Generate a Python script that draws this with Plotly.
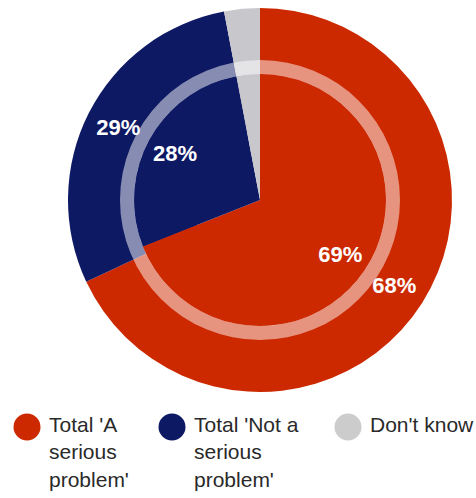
import plotly.graph_objects as go

# ---- data ----
categories = ["Total 'A serious problem'", "Total 'Not a serious problem'", "Don't know"]
legend_labels = ["Total 'A<br>serious<br>problem'", "Total 'Not a<br>serious<br>problem'", "Don't know"]
outer_values = [68, 29, 3]
inner_values = [69, 28, 3]

# ---- style ----
W, H = 476, 498
colors = ["#CC2900", "#0E1964", "#C8C8CC"]
legend_colors = ["#CC2900", "#0E1964", "#CCCCCC"]
FONT = "Liberation Sans, Arial, sans-serif"
CX, CY = 260, 200          # pie centre (px)
R_OUT, R_RING_O, R_RING_I, R_IN_HOLE = 192, 140, 126, 68


def dom(r):
    return dict(x=[(CX - r) / W, (CX + r) / W], y=[1 - (CY + r) / H, 1 - (CY - r) / H])


def lab(vals):
    return [f"<b>{v}%</b>" if v >= 10 else "" for v in vals]


common = dict(sort=False, direction="clockwise", rotation=0, showlegend=False,
              hoverinfo="label+value", insidetextorientation="horizontal",
              insidetextfont=dict(family=FONT, size=22, color="white"))

fig = go.Figure()
# outer ring carrying the labels
fig.add_trace(go.Pie(labels=categories, values=outer_values, hole=R_RING_I / R_OUT,
                     domain=dom(R_OUT), marker=dict(colors=colors), textposition="inside",
                     text=lab(outer_values), textinfo="text", **common))
# inner core (no text)
fig.add_trace(go.Pie(labels=categories, values=inner_values, hole=0,
                     domain=dom(R_RING_I), marker=dict(colors=colors),
                     textinfo="none", **common))
# inner ring carrying the labels
fig.add_trace(go.Pie(labels=categories, values=inner_values, hole=R_IN_HOLE / R_RING_I,
                     domain=dom(R_RING_I), marker=dict(colors=colors), textposition="inside",
                     text=lab(inner_values), textinfo="text", **common))
# translucent separating ring
fig.add_trace(go.Pie(labels=["ring"], values=[1], hole=R_RING_I / R_RING_O,
                     domain=dom(R_RING_O), marker=dict(colors=["white"]),
                     opacity=0.5, textinfo="none", hoverinfo="skip", sort=False,
                     showlegend=False))

# custom legend
legend_cx = [27, 172, 348]
legend_cy = 427
legend_r = 13.5
shapes, annots = [], []
for i, name in enumerate(legend_labels):
    cx = legend_cx[i]
    shapes.append(dict(type="circle", xref="paper", yref="paper",
                       x0=(cx - legend_r) / W, x1=(cx + legend_r) / W,
                       y0=1 - (legend_cy + legend_r) / H, y1=1 - (legend_cy - legend_r) / H,
                       fillcolor=legend_colors[i], line=dict(width=0)))
    annots.append(dict(text=name, xref="paper", yref="paper",
                       x=(cx + 20) / W, y=1 - 411 / H, xanchor="left", yanchor="top",
                       align="left", showarrow=False,
                       font=dict(family=FONT, size=21, color="#2A2A2A")))

fig.update_layout(width=W, height=H, margin=dict(l=0, r=0, t=0, b=0),
                  paper_bgcolor="white", plot_bgcolor="white",
                  shapes=shapes, annotations=annots, showlegend=False)

fig.write_html("out.html")
